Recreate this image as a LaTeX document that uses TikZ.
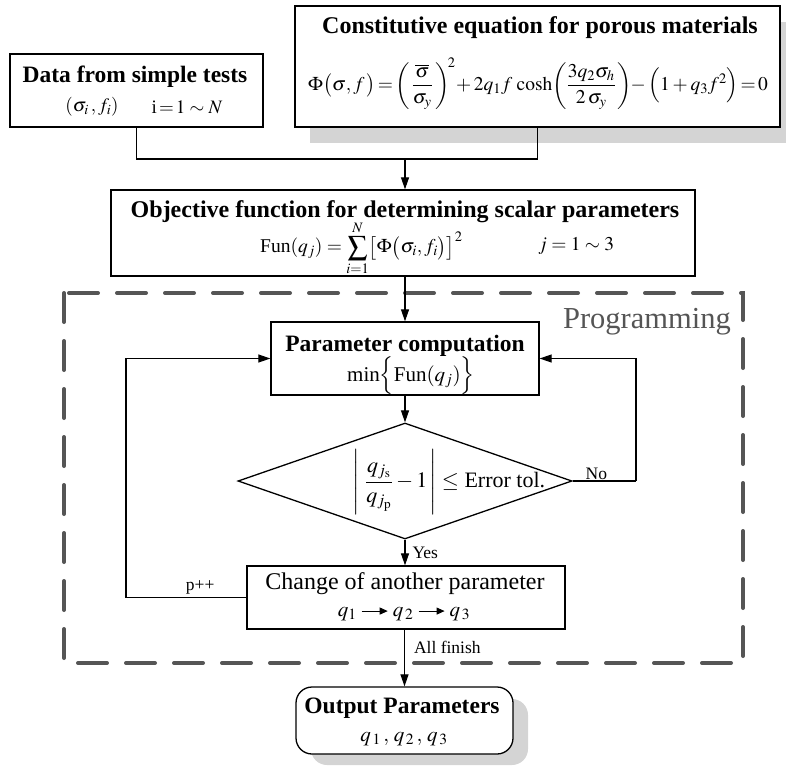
\documentclass[tikz,border=0pt]{standalone}
\usepackage{amsmath}
\usepackage{mathptmx}
\usepackage{fontspec}
\setmainfont{Liberation Serif}
\usetikzlibrary{arrows.meta,shapes.geometric}
\definecolor{dashgray}{HTML}{555555}
\definecolor{shadowgray}{HTML}{D4D4D4}
\newcommand{\farr}{\mathrel{\tikz[baseline=-0.55ex]\draw[line width=1pt,-{Triangle[length=8pt,width=7pt]}] (0,0) -- (26pt,0);}}
\tikzset{
  box/.style={draw, line width=1.3pt, fill=white, inner sep=0pt},
  txt/.style={inner sep=0pt, anchor=center},
  ttl/.style={txt, font=\fontsize{23.5}{26}\selectfont\bfseries},
  conn/.style={line width=1.1pt},
  arr/.style={line width=1.1pt, -{Triangle[length=12pt,width=8pt]}},
  lbl/.style={font=\fontsize{17.5}{20}\selectfont, inner sep=1pt},
  frame/.style={draw=dashgray, line width=4pt, dash pattern=on 29pt off 19pt, line cap=round},
  shadowbox/.style={fill=shadowgray, draw=none}
}
\begin{document}
\begin{tikzpicture}[x=1pt,y=-1pt]
\useasboundingbox (0,0) rectangle (786,765);

% dashed programming frame
\draw[frame] (64,293) rectangle (743,663);
\node[font=\fontsize{30.5}{33}\selectfont, text=dashgray, anchor=base east, inner sep=0pt] (prog) at (731,328) {Programming};

% shadows
\fill[shadowbox] (310,22) rectangle (786,143);
\fill[shadowbox, rounded corners=16pt] (311,699) rectangle (528,765);

% boxes
\node[box, minimum width=253pt, minimum height=73pt] (data) at (136.5,90.5) {};
\node[box, minimum width=485pt, minimum height=121pt] (const) at (537.5,66.5) {};
\node[box, minimum width=584pt, minimum height=86pt] (obj) at (403,233) {};
\node[box, minimum width=268pt, minimum height=73pt] (param) at (405,358.5) {};
\node[draw, line width=1.3pt, shape=diamond, fill=white, inner sep=0pt, minimum width=334pt, minimum height=116pt] (dia) at (405,481) {};
\node[box, minimum width=318pt, minimum height=63pt] (change) at (406,597.5) {};
\node[box, rounded corners=16pt, minimum width=217pt, minimum height=67pt] (out) at (404.5,720.5) {};

% data texts
\node[ttl] (dataT) at (135,77) {Data from simple tests};
\node[txt, font=\fontsize{19}{21}\selectfont] (dataA) at (92,107) {$(\sigma_i\,, f_i)$};
\node[txt, font=\fontsize{19}{21}\selectfont] (dataB) at (187,107) {i$\,=\!1\sim N$};

% constitutive texts
\node[ttl, font=\fontsize{24}{26}\selectfont\bfseries] (constT) at (540,28) {Constitutive equation for porous materials};
\node[txt, font=\fontsize{19.5}{22}\selectfont] (constE) at (538,84) {$\Phi\bigl(\sigma, f\,\bigr)\!=\!\left(\,\dfrac{\overline{\sigma}}{\sigma_y}\,\right)^{\!2}\!+2q_1 f\,\cosh\!\left(\dfrac{3q_2\sigma_h}{2\,\sigma_y}\,\right)\!\!-\Bigl(1+q_3 f^2\Bigr)\!=\!0$};

% objective texts
\node[ttl, font=\fontsize{24}{26}\selectfont\bfseries] (objT) at (405,212) {Objective function for determining scalar parameters};
\node[txt, anchor=west, font=\fontsize{19.5}{22}\selectfont] (objE) at (260,248) {Fun$(q_j)=\displaystyle\sum_{i=1}^{N}\bigl[\Phi\bigl(\sigma_i, f_i\bigr)\bigr]^2$};
\node[txt, anchor=west, font=\fontsize{19.5}{22}\selectfont] (objJ) at (538,246) {$j=1\sim 3$};

% parameter computation texts
\node[ttl] (paramT) at (405,346) {Parameter computation};
\node[txt, font=\fontsize{21}{23}\selectfont] (paramE) at (411,376) {min$\Bigl\{$Fun$(q_j)\Bigr\}$};

% decision text
\node[txt, font=\fontsize{22}{24}\selectfont] (crit) at (449,482) {%
  $\left|\rule[-27pt]{0pt}{56pt}\;\dfrac{q_{j_{\mathrm{s}}}}{q_{j_{\mathrm{p}}}}-1\,\right|\le$ Error tol.};

% change texts
\node[txt, font=\fontsize{24}{26}\selectfont] (changeT) at (405,584) {Change of another parameter};
\node[txt, font=\fontsize{21}{23}\selectfont] (changeE) at (404,614) {$q_1\farr q_{\,2}\farr q_{\,3}$};

% output texts
\node[ttl] (outT) at (402,708) {Output Parameters};
\node[txt, font=\fontsize{21}{23}\selectfont] (outE) at (404,739) {$q_{\,1}\,,\,q_{\,2}\,,\,q_{\,3}$};

% connectors
\coordinate (merge) at (405,159);
\coordinate (nocorner) at (636,481);
\coordinate (pcorner) at (126,597.5);
\draw[conn] (data.south) |- (merge) -| (const.south);
\draw[arr] (merge) -- (obj.north -| merge);
\draw[arr] (obj.south -| param.north) -- (param.north);
\draw[arr] (param.south) -- (dia.north);
\draw[arr] (dia.south) -- node[lbl, right, xshift=6pt]{Yes} (change.north -| dia.south);
\draw[conn] (dia.east) -- node[lbl, above, xshift=-8pt]{No} (nocorner);
\draw[arr] (nocorner) |- (param.east);
\draw[conn] (change.west) -- node[lbl, above, yshift=2pt, xshift=14pt]{p++} (pcorner);
\draw[arr] (pcorner) |- (param.west);
\draw[arr] (change.south -| out.north) -- node[lbl, right, pos=0.32, xshift=8pt]{All finish} (out.north);
\end{tikzpicture}
\end{document}
